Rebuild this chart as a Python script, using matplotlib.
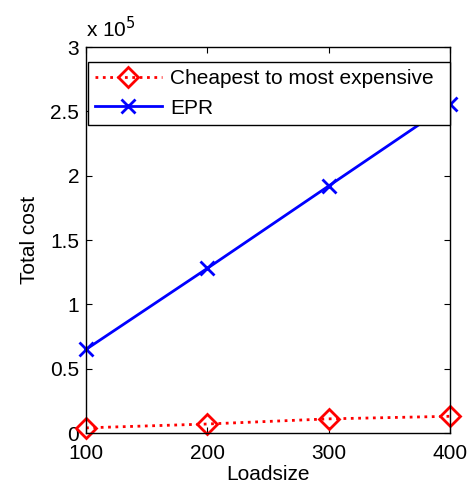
import matplotlib
matplotlib.use("Agg")
import matplotlib.pyplot as plt

plt.rcParams['font.family'] = ['Liberation Sans', 'DejaVu Sans']

loadsize = [100, 200, 300, 400]
cheapest = [0.04e5, 0.07e5, 0.11e5, 0.13e5]
epr = [0.65e5, 1.28e5, 1.92e5, 2.56e5]
yticks = [0, 0.5e5, 1e5, 1.5e5, 2e5, 2.5e5, 3e5]
ytick_labels = ['0', '0.5', '1', '1.5', '2', '2.5', '3']
xticks = [100, 200, 300, 400]

fig = plt.figure(figsize=(4.68, 4.9), dpi=100)
ax = fig.add_axes([0.1838, 0.1163, 0.7777, 0.7877])
ax.plot(loadsize, cheapest, color='red', linestyle=':', linewidth=2,
        marker='D', markersize=10, markerfacecolor='none', markeredgewidth=2,
        label='Cheapest to most expensive', clip_on=False)
ax.plot(loadsize, epr, color='blue', linestyle='-', linewidth=2,
        marker='x', markersize=10, markeredgewidth=2, label='EPR', clip_on=False)
ax.set_xlim(100, 400)
ax.set_ylim(0, 3e5)
ax.set_xticks(xticks)
ax.set_yticks(yticks)
ax.set_yticklabels(ytick_labels)
ax.tick_params(direction='in', top=True, right=True, labelsize=15, length=4)
ax.tick_params(axis='x', pad=8)
ax.tick_params(axis='y', pad=5)
for s in ax.spines.values():
    s.set_linewidth(1)
ax.set_xlabel('Loadsize', fontsize=15, labelpad=1)
ax.set_ylabel('Total cost', fontsize=15, labelpad=8)
ax.text(0.0, 1.015, r'x 10$^{5}$', transform=ax.transAxes, fontsize=15, ha='left', va='bottom')
leg = ax.legend(loc='lower left', bbox_to_anchor=(0.005, 0.798, 0.995, 0.173), mode='expand',
                fontsize=15, frameon=True, fancybox=False, edgecolor='black', framealpha=1,
                borderpad=0.35, handlelength=3.2, handletextpad=0.4, labelspacing=0.5,
                borderaxespad=0)
leg.get_frame().set_linewidth(1)
fig.savefig('out.png', dpi=100)
